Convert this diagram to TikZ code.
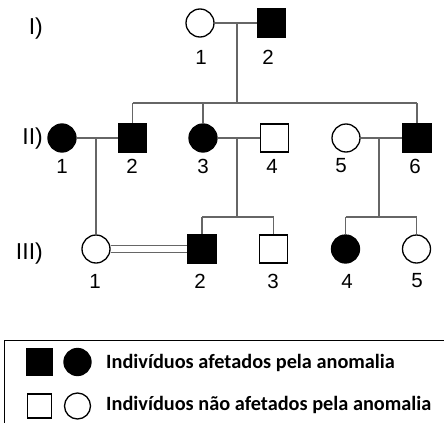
\documentclass[tikz,border=0pt]{standalone}
\usepackage{fontspec}
\setmainfont{Liberation Sans}
\newfontfamily\legfont{Carlito}
\tikzset{
  sym/.style={draw=black,line width=1.3pt,minimum size=28pt,inner sep=0pt,fill=white},
  male/.style={sym,rectangle},
  female/.style={sym,circle},
  aff/.style={fill=black},
  rel/.style={draw=black!60,line width=1.3pt},
  num/.style={font=\fontsize{20.5}{20.5}\selectfont,inner sep=0pt},
  gen/.style={font=\fontsize{23}{23}\selectfont,inner sep=0pt,anchor=east},
  legtext/.style={font=\legfont\bfseries\fontsize{20.3}{20.3}\selectfont,inner sep=0pt,anchor=west},
}
\begin{document}
\begin{tikzpicture}[x=1pt,y=-1pt]
\useasboundingbox (0,0) rectangle (444,423);
% generation I
\node[female] (i1) at (200,23) {};
\node[male,aff] (i2) at (271.5,23) {};
\coordinate (m1) at (237,23);
\coordinate (s1) at (237,103);
% generation II
\node[female,aff] (ii1) at (62,138) {};
\node[male,aff] (ii2) at (132.5,138) {};
\node[female,aff] (ii3) at (203,138) {};
\node[male] (ii4) at (274.5,138) {};
\node[female] (ii5) at (346,138) {};
\node[male,aff] (ii6) at (417,138) {};
\coordinate (m2) at (96,138);
\coordinate (m3) at (237,138);
\coordinate (m4) at (379,138);
\coordinate (s3) at (237,217);
\coordinate (s4) at (379,217);
% generation III
\node[female] (iii1) at (96,249) {};
\node[male,aff] (iii2) at (202,249) {};
\node[male] (iii3) at (273.5,249) {};
\node[female,aff] (iii4) at (345.5,249) {};
\node[female] (iii5) at (416.5,249) {};

\draw[rel] (i1) -- (i2);
\draw[rel] (m1) -- (s1);
\draw[rel] (ii2 |- s1) -- (ii6 |- s1);
\draw[rel] (ii2 |- s1) -- (ii2);
\draw[rel] (ii3 |- s1) -- (ii3);
\draw[rel] (ii6 |- s1) -- (ii6);

\draw[rel] (ii1) -- (ii2);
\draw[rel] (ii3) -- (ii4);
\draw[rel] (ii5) -- (ii6);
\draw[rel] (m2) -- (iii1);
\draw[rel] (m3) -- (s3);
\draw[rel] (m4) -- (s4);
\draw[rel] (iii2 |- s3) -- (iii3 |- s3);
\draw[rel] (iii2 |- s3) -- (iii2);
\draw[rel] (iii3 |- s3) -- (iii3);
\draw[rel] (iii4 |- s4) -- (iii5 |- s4);
\draw[rel] (iii4 |- s4) -- (iii4);
\draw[rel] (iii5 |- s4) -- (iii5);
\draw[rel,double distance=5.6pt] (iii1) -- (iii2);

% numbers
\node[gen] (g1) at (43,29) {I)};
\node[gen] (g2) at (43,139) {II)};
\node[gen] (g3) at (43,254) {III)};
\node[num] (n-i1) at (201,57) {1};
\node[num] (n-i2) at (268,57) {2};
\node[num] (n-ii1) at (62,166) {1};
\node[num] (n-ii2) at (132,166) {2};
\node[num] (n-ii3) at (203,166) {3};
\node[num] (n-ii4) at (272,166) {4};
\node[num] (n-ii5) at (341,166) {5};
\node[num] (n-ii6) at (415,166) {6};
\node[num] (n-iii1) at (95,281) {1};
\node[num] (n-iii2) at (200,281) {2};
\node[num] (n-iii3) at (273,281) {3};
\node[num] (n-iii4) at (347,281) {4};
\node[num] (n-iii5) at (417,281) {5};

% legend
\draw[line width=1pt] (444,340) -| (4,423);
\node[male,aff,minimum size=26pt] (la) at (39.5,362) {};
\node[female,aff,minimum size=27pt] (lb) at (77.5,362) {};
\node[male,minimum size=24pt] (lc) at (39.5,406) {};
\node[female,minimum size=26pt] (ld) at (77.5,406) {};
\node[legtext] (t1) at (106,363) {Indivíduos afetados pela anomalia};
\node[legtext] (t2) at (106,405) {Indivíduos não afetados pela anomalia};
\end{tikzpicture}
\end{document}
